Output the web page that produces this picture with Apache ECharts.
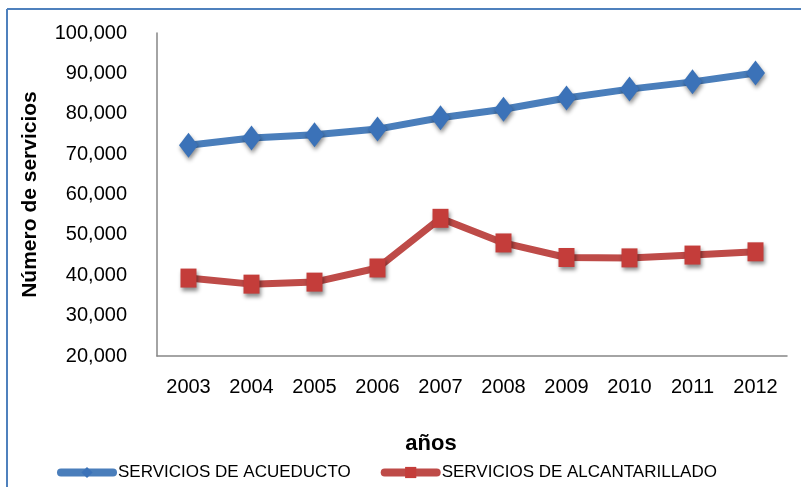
<!DOCTYPE html>
<html>
<head>
<meta charset="utf-8">
<script src="https://cdn.jsdelivr.net/npm/echarts@6/dist/echarts.min.js"></script>
<style>
html,body{margin:0;padding:0;background:#fff;}
#chart{width:801px;height:487px;}
</style>
</head>
<body>
<div id="chart"></div>
<script>
const years = ['2003','2004','2005','2006','2007','2008','2009','2010','2011','2012'];
const acueducto = [72200, 74000, 74800, 76200, 79000, 81100, 83900, 86100, 87900, 90100];
const alcantarillado = [39300, 37800, 38300, 41800, 54100, 48000, 44400, 44300, 45000, 45800];
const seriesNames = ['SERVICIOS DE ACUEDUCTO', 'SERVICIOS DE ALCANTARILLADO'];
const yAxisTitle = 'Número de servicios';
const xAxisTitle = 'años';

const font = '"Liberation Sans", Arial, sans-serif';
const chart = echarts.init(document.getElementById('chart'));
const shadow = {shadowBlur: 4, shadowColor: 'rgba(0,0,0,0.45)', shadowOffsetX: 1, shadowOffsetY: 3};
chart.setOption({
  animation: false,
  backgroundColor: '#fff',
  textStyle: {fontFamily: font},
  graphic: [
    {type: 'line', shape: {x1: 7, y1: 9, x2: 7, y2: 487}, style: {stroke: '#4f81bd', lineWidth: 2}},
    {type: 'line', shape: {x1: 7, y1: 9, x2: 801, y2: 9}, style: {stroke: '#4f81bd', lineWidth: 2}}
  ],
  grid: {left: 157, right: 14, top: 33, bottom: 131},
  legend: {
    left: 52, top: 459,
    itemWidth: 52, itemHeight: 14, itemGap: 30,
    lineStyle: {width: 8, cap: 'round'},
    textStyle: {fontFamily: font, fontSize: 17, color: '#000'},
    data: seriesNames
  },
  xAxis: {
    type: 'category', data: years, boundaryGap: true,
    axisLine: {lineStyle: {color: '#868686', width: 1.5}},
    axisTick: {show: false},
    axisLabel: {fontFamily: font, fontSize: 20, color: '#000', margin: 21},
    name: xAxisTitle, nameLocation: 'middle', nameGap: 77,
    nameTextStyle: {fontFamily: font, fontSize: 22, fontWeight: 'bold', color: '#000', padding: [0, 82, 0, 0]}
  },
  yAxis: {
    type: 'value', min: 20000, max: 100000, interval: 10000,
    axisLine: {show: true, lineStyle: {color: '#868686', width: 1.5}},
    axisTick: {show: false},
    splitLine: {show: false},
    axisLabel: {fontFamily: font, fontSize: 20, color: '#000', margin: 30,
      formatter: v => v.toLocaleString('en-US')},
    name: yAxisTitle, nameLocation: 'middle', nameGap: 116, nameRotate: 90,
    nameTextStyle: {fontFamily: font, fontSize: 21, fontWeight: 'bold', color: '#000'}
  },
  series: [
    {
      name: seriesNames[0], type: 'line', data: acueducto,
      symbol: 'diamond', symbolSize: [19, 25],
      lineStyle: {color: '#4a7ebb', width: 7},
      itemStyle: Object.assign({color: '#3b72b8', borderWidth: 0}, shadow)
    },
    {
      name: seriesNames[1], type: 'line', data: alcantarillado,
      symbol: 'rect', symbolSize: [16, 19],
      lineStyle: {color: '#be4b48', width: 7},
      itemStyle: Object.assign({color: '#c43d3a', borderWidth: 0}, shadow)
    }
  ]
});
</script>
</body>
</html>
